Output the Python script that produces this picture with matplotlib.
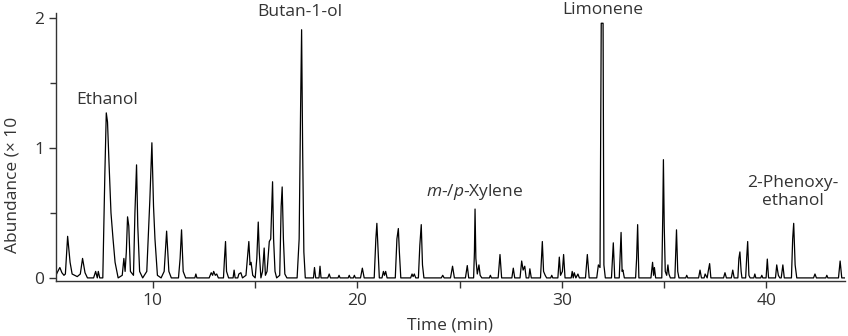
import matplotlib
matplotlib.use("Agg")
from matplotlib import pyplot as plt
from matplotlib.ticker import MultipleLocator, FixedLocator

plt.rcParams['font.family'] = ['Open Sans', 'DejaVu Sans']
plt.rcParams['mathtext.fontset'] = 'custom'
plt.rcParams['mathtext.it'] = 'Open Sans:italic'
plt.rcParams['mathtext.rm'] = 'Open Sans'

# Chromatogram trace (time in min, abundance)
time = [
    5.26, 5.35, 5.45, 5.55, 5.65, 5.72, 5.83, 5.95, 6.05, 6.3, 6.45, 6.56, 6.68, 6.8,
    7.1, 7.2, 7.28, 7.33, 7.4, 7.55, 7.65, 7.72, 7.78, 7.85, 7.95, 8.05, 8.15, 8.3,
    8.5, 8.58, 8.64, 8.7, 8.76, 8.82, 8.9, 9.05, 9.12, 9.2, 9.26, 9.35, 9.5,
    9.7, 9.85, 9.95, 10.03, 10.1, 10.22, 10.4, 10.55, 10.67, 10.78, 10.9,
    11.25, 11.33, 11.4, 11.48, 11.6, 12.05, 12.1, 12.15,
    12.75, 12.85, 12.92, 12.97, 13.05, 13.12, 13.2, 13.45, 13.5, 13.55, 13.6, 13.7,
    13.92, 13.97, 14.02, 14.15, 14.2, 14.3, 14.38, 14.55, 14.62, 14.69, 14.75, 14.8, 14.88,
    15.0, 15.08, 15.15, 15.2, 15.28, 15.36, 15.44, 15.5, 15.58, 15.65, 15.69, 15.76,
    15.85, 15.9, 15.97, 16.05, 16.2, 16.27, 16.32, 16.38, 16.45, 16.55,
    17.05, 17.15, 17.22, 17.27, 17.32, 17.38, 17.45, 17.85, 17.9, 17.96,
    18.12, 18.17, 18.22, 18.55, 18.62, 18.68, 19.05, 19.1, 19.15, 19.55, 19.6, 19.65,
    19.8, 19.85, 19.9, 20.15, 20.24, 20.33, 20.82, 20.9, 20.95, 21.0, 21.07,
    21.2, 21.27, 21.32, 21.38, 21.45, 21.85, 21.93, 22.0, 22.05, 22.12,
    22.6, 22.67, 22.72, 22.78, 22.85, 22.98, 23.05, 23.12, 23.18, 23.25,
    24.1, 24.17, 24.24, 24.55, 24.65, 24.74, 25.28, 25.37, 25.44,
    25.68, 25.72, 25.75, 25.79, 25.86, 25.94, 26.0, 26.08, 26.45, 26.5, 26.55,
    26.88, 26.97, 27.05, 27.55, 27.62, 27.69, 27.95, 28.03, 28.1, 28.18, 28.25,
    28.38, 28.43, 28.5, 28.95, 29.0, 29.04, 29.1, 29.18, 29.25, 29.45, 29.5, 29.55,
    29.8, 29.87, 29.93, 30.02, 30.08, 30.15, 30.45, 30.5, 30.55, 30.6, 30.68, 30.78, 30.85,
    31.15, 31.24, 31.33, 31.7, 31.78, 31.86, 31.92, 32.01, 32.05, 32.12,
    32.42, 32.51, 32.58, 32.8, 32.89, 32.94, 32.98, 33.05, 33.6, 33.65, 33.7, 33.76,
    34.35, 34.43, 34.48, 34.52, 34.58, 34.88, 34.93, 34.96, 35.0, 35.05, 35.12, 35.18, 35.23, 35.3,
    35.52, 35.6, 35.66, 35.72, 36.05, 36.1, 36.15, 36.68, 36.75, 36.82,
    36.95, 37.0, 37.1, 37.15, 37.22, 37.28, 37.9, 37.97, 38.04, 38.28, 38.35, 38.42,
    38.6, 38.65, 38.7, 38.76, 38.8, 38.98, 39.03, 39.08, 39.14, 39.2,
    39.38, 39.43, 39.48, 39.72, 39.77, 39.82, 39.98, 40.04, 40.1,
    40.44, 40.5, 40.58, 40.65, 40.72, 40.8, 40.87, 41.22, 41.28, 41.33, 41.4, 41.48,
    42.3, 42.37, 42.44, 42.9, 42.95, 43.0, 43.52, 43.6, 43.68, 43.84,
]
abundance = [
    0.02, 0.05, 0.08, 0.04, 0.02, 0.03, 0.32, 0.12, 0.03, 0.01, 0.03, 0.15, 0.04, 0.0,
    0.0, 0.05, 0.0, 0.05, 0.0, 0.0, 0.8, 1.27, 1.2, 0.9, 0.5, 0.3, 0.12, 0.0,
    0.02, 0.15, 0.05, 0.2, 0.47, 0.4, 0.05, 0.02, 0.5, 0.87, 0.4, 0.05, 0.0,
    0.05, 0.6, 1.04, 0.55, 0.3, 0.02, 0.0, 0.05, 0.36, 0.05, 0.0,
    0.0, 0.15, 0.37, 0.05, 0.0, 0.0, 0.03, 0.0,
    0.0, 0.04, 0.02, 0.05, 0.02, 0.03, 0.0, 0.0, 0.15, 0.28, 0.05, 0.0,
    0.0, 0.06, 0.0, 0.0, 0.03, 0.04, 0.0, 0.02, 0.15, 0.28, 0.1, 0.12, 0.02,
    0.0, 0.15, 0.43, 0.2, 0.0, 0.05, 0.23, 0.02, 0.05, 0.2, 0.28, 0.3,
    0.74, 0.3, 0.05, 0.0, 0.02, 0.55, 0.7, 0.3, 0.03, 0.0,
    0.0, 0.3, 1.3, 1.91, 1.0, 0.2, 0.0, 0.0, 0.08, 0.0,
    0.0, 0.09, 0.0, 0.0, 0.03, 0.0, 0.0, 0.02, 0.0, 0.0, 0.02, 0.0,
    0.0, 0.02, 0.0, 0.0, 0.075, 0.0, 0.0, 0.3, 0.42, 0.25, 0.0,
    0.0, 0.05, 0.02, 0.05, 0.0, 0.0, 0.3, 0.38, 0.2, 0.0,
    0.0, 0.03, 0.01, 0.03, 0.0, 0.0, 0.25, 0.41, 0.1, 0.0,
    0.0, 0.02, 0.0, 0.0, 0.09, 0.0, 0.0, 0.095, 0.0,
    0.0, 0.2, 0.53, 0.15, 0.03, 0.1, 0.02, 0.0, 0.0, 0.02, 0.0,
    0.0, 0.18, 0.0, 0.0, 0.075, 0.0, 0.0, 0.13, 0.06, 0.09, 0.0,
    0.0, 0.07, 0.0, 0.0, 0.15, 0.28, 0.05, 0.02, 0.0, 0.0, 0.02, 0.0,
    0.0, 0.16, 0.02, 0.05, 0.18, 0.0, 0.0, 0.05, 0.0, 0.04, 0.0, 0.03, 0.0,
    0.0, 0.18, 0.0, 0.0, 0.1, 0.08, 1.96, 1.96, 0.1, 0.0,
    0.0, 0.27, 0.0, 0.0, 0.35, 0.05, 0.06, 0.0, 0.0, 0.15, 0.41, 0.0,
    0.0, 0.12, 0.02, 0.08, 0.0, 0.0, 0.5, 0.91, 0.4, 0.05, 0.02, 0.1, 0.03, 0.0,
    0.0, 0.37, 0.05, 0.0, 0.0, 0.02, 0.0, 0.0, 0.06, 0.0,
    0.0, 0.03, 0.0, 0.05, 0.11, 0.0, 0.0, 0.04, 0.0, 0.0, 0.06, 0.0,
    0.0, 0.15, 0.2, 0.05, 0.0, 0.0, 0.15, 0.28, 0.02, 0.0,
    0.0, 0.03, 0.0, 0.0, 0.02, 0.0, 0.0, 0.145, 0.0,
    0.0, 0.1, 0.02, 0.0, 0.0, 0.1, 0.0, 0.0, 0.3, 0.42, 0.1, 0.0,
    0.0, 0.03, 0.0, 0.0, 0.02, 0.0, 0.0, 0.13, 0.0, 0.0,
]

# Peak labels: text, time, abundance position
label_texts = ["Ethanol", "Butan-1-ol", "Limonene", "$m$-/$p$-Xylene", "2-Phenoxy-\nethanol"]
label_times = [7.75, 17.2, 32.0, 25.75, 41.3]
label_levels = [1.37, 2.05, 2.065, 0.66, 0.66]

x_ticks = [10, 20, 30, 40]
y_ticks = [0, 1, 2]

text_color = '#333333'
font_size = 12.5

fig = plt.figure(figsize=(8.48, 3.36), dpi=100)
ax = fig.add_axes([0.066, 0.164, 0.9305, 0.797])

ax.plot(time, abundance, color='black', linewidth=0.9)

ax.set_xlim(5.26, 43.84)
ax.set_ylim(-0.023, 2.038)

ax.xaxis.set_major_locator(FixedLocator(x_ticks))
ax.xaxis.set_minor_locator(MultipleLocator(5))
ax.yaxis.set_major_locator(FixedLocator(y_ticks))
ax.yaxis.set_minor_locator(MultipleLocator(0.5))
ax.tick_params(which='both', direction='out', color=text_color, width=1,
               labelcolor=text_color, labelsize=font_size)
ax.tick_params(which='major', length=5)
ax.tick_params(axis='x', which='minor', length=5)
ax.tick_params(axis='y', which='minor', length=4)

for side in ['top', 'right']:
    ax.spines[side].set_visible(False)
for side in ['left', 'bottom']:
    ax.spines[side].set_color(text_color)
    ax.spines[side].set_linewidth(1)

for txt, t, lvl in zip(label_texts, label_times, label_levels):
    ax.text(t, lvl, txt, ha='center', va='center', fontsize=font_size,
            color=text_color, clip_on=False, linespacing=1.2)

fig.text(450 / 848, 1 - 325 / 336, "Time (min)", ha='center', va='center',
         fontsize=font_size, color=text_color)
fig.text(13 / 848, 1 - 185 / 336, "Abundance (× 10", ha='center', va='center',
         rotation=90, fontsize=font_size, color=text_color)

fig.savefig("out.png", dpi=100)
